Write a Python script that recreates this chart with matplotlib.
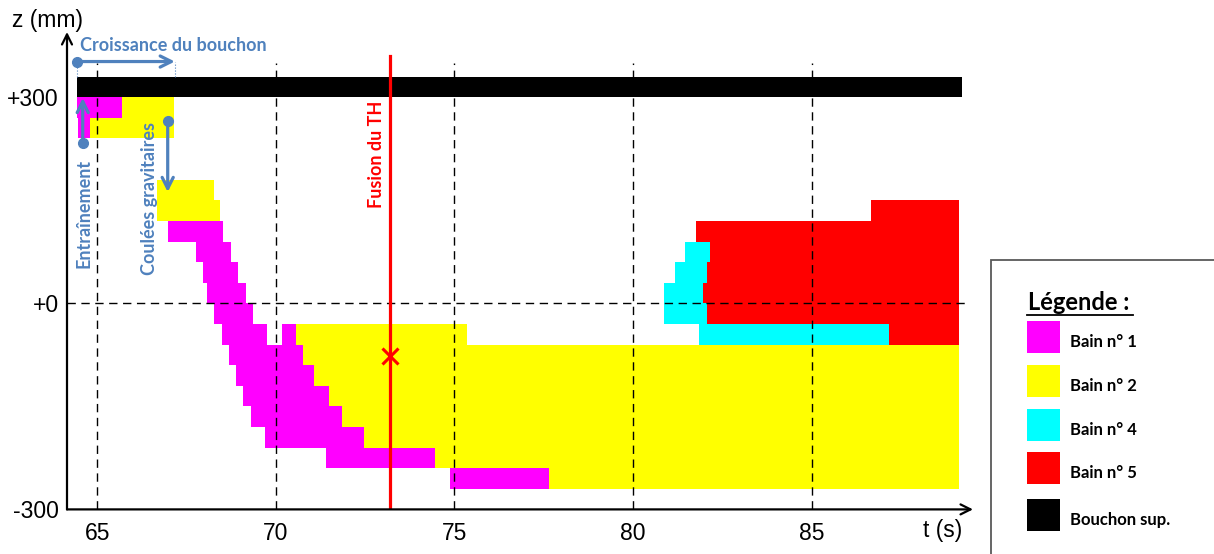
import matplotlib.pyplot as plt
import numpy as np
from matplotlib.patches import Rectangle
from matplotlib.lines import Line2D

plt.rcParams['font.family'] = ['Lato', 'DejaVu Sans']

# rows are 30 mm high, z = bottom of the row, t0/t1 = start/end time (s)
row_h = 30

bain1_z = [270, 240, 90, 60, 30, 0, -30, -60, -60, -90, -120, -150, -180, -210, -240, -270]
bain1_t0 = [64.42, 64.46, 66.98, 67.76, 67.96, 68.08, 68.27, 68.48, 70.16, 68.68, 68.89, 69.08, 69.29, 69.70, 71.39, 74.87]
bain1_t1 = [65.70, 64.79, 68.52, 68.74, 68.94, 69.15, 69.35, 69.76, 70.56, 70.77, 71.07, 71.49, 71.86, 72.47, 74.46, 77.65]

bain2_z = [270, 240, 150, 120, -60, -90, -120, -150, -180, -210, -240, -270]
bain2_t0 = [65.70, 64.79, 66.68, 66.68, 70.56, 70.77, 71.07, 71.49, 71.86, 72.47, 74.46, 77.65]
bain2_t1 = [67.15, 67.15, 68.26, 68.44, 75.34, 89.12, 89.12, 89.12, 89.12, 89.12, 89.12, 89.12]

bain4_z = [60, 30, 0, -30, -60]
bain4_t0 = [81.45, 81.18, 80.87, 80.87, 81.86]
bain4_t1 = [82.16, 82.06, 81.95, 82.06, 87.17]

bain5_z = [120, 90, 60, 30, 0, -30, -60]
bain5_t0 = [86.66, 81.76, 82.16, 82.06, 81.95, 82.06, 87.17]
bain5_t1 = [89.12, 89.12, 89.12, 89.12, 89.12, 89.12, 89.12]

bouchon_z = [300]
bouchon_t0 = [64.42]
bouchon_t1 = [89.22]

x_ticks = [65, 70, 75, 80, 85]
y_ticks = [300, 0, -300]
y_ticklabels = ['+300', '+0', '-300']

t_fusion = 73.19
fusion_point = (73.19, -77)

legend_labels = ['Bain n° 1', 'Bain n° 2', 'Bain n° 4', 'Bain n° 5', 'Bouchon sup.']
legend_colors = ['#FF00FF', '#FFFF00', '#00FFFF', '#FF0000', '#000000']

blue = '#4F81BD'
axis_font = ['Liberation Sans', 'DejaVu Sans']
W, H = 1214, 554

fig = plt.figure(figsize=(W / 100, H / 100), dpi=100)
ax = fig.add_axes([67 / W, (H - 509.4) / H, (973 - 67) / W, (509.4 - 32) / H])
ax.set_xlim(64.15, 89.52)
ax.set_ylim(-300, 395)
for s in ax.spines.values():
    s.set_visible(False)

series = [
    (bain1_z, bain1_t0, bain1_t1, legend_colors[0]),
    (bain2_z, bain2_t0, bain2_t1, legend_colors[1]),
    (bain4_z, bain4_t0, bain4_t1, legend_colors[2]),
    (bain5_z, bain5_t0, bain5_t1, legend_colors[3]),
    (bouchon_z, bouchon_t0, bouchon_t1, legend_colors[4]),
]
for z, t0, t1, col in series:
    t0 = np.array(t0)
    t1 = np.array(t1)
    ax.barh(z, t1 - t0, left=t0, height=row_h, align='edge', color=col, linewidth=0, zorder=1)

# dashed grid
for xt in x_ticks:
    ax.plot([xt, xt], [-300, 350], color='black', lw=1, ls=(0, (6, 4)), zorder=3)
ax.plot([64.15, 89.37], [0, 0], color='black', lw=1, ls=(0, (6, 4)), zorder=3)

# axes arrows
ax_arrow = dict(arrowstyle='->', lw=1.6, color='black', shrinkA=0, shrinkB=0, mutation_scale=18)
ax.annotate('', xy=(89.52, -300), xytext=(64.15, -300), arrowprops=ax_arrow,
            annotation_clip=False, zorder=6)
ax.annotate('', xy=(64.15, 395), xytext=(64.15, -300), arrowprops=ax_arrow,
            annotation_clip=False, zorder=6)

ax.set_xticks(x_ticks)
ax.set_xticklabels([str(v) for v in x_ticks])
ax.set_yticks(y_ticks)
ax.set_yticklabels(y_ticklabels)
ax.tick_params(axis='x', length=0, pad=9)
ax.tick_params(axis='y', length=0, pad=6)
for lab in ax.get_xticklabels() + ax.get_yticklabels():
    lab.set_fontfamily(axis_font)
    lab.set_fontsize(16.5)

ax.text(63.61, 412, 'z (mm)', fontsize=16.5, family=axis_font, ha='center', va='center', clip_on=False)
ax.text(88.66, -331, 't (s)', fontsize=16.5, family=axis_font, ha='center', va='center', clip_on=False)

# fusion du TH
ax.plot([t_fusion, t_fusion], [-300, 360], color='red', lw=2.3, zorder=4)
ax.plot(*fusion_point, marker='x', color='red', ms=11, mew=2.2, zorder=5)
ax.text(72.81, 217, 'Fusion du TH', color='red', rotation=90, fontsize=13, weight='bold',
        ha='center', va='center')

# blue annotations
arrow_kw = dict(arrowstyle='->', lw=2.3, color=blue, shrinkA=0, shrinkB=0, mutation_scale=20)
ax.annotate('', xy=(67.17, 352), xytext=(64.42, 352), arrowprops=arrow_kw, zorder=6)
ax.plot(64.42, 352, 'o', color=blue, ms=7, zorder=6)
ax.plot([64.42, 64.42], [330, 352], color=blue, lw=0.8, ls=':', zorder=6)
ax.plot([67.17, 67.17], [330, 352], color=blue, lw=0.8, ls=':', zorder=6)
ax.text(67.13, 376, 'Croissance du bouchon', color=blue, fontsize=13, weight='bold',
        ha='center', va='center', clip_on=False)

ax.annotate('', xy=(64.59, 299), xytext=(64.59, 233), arrowprops=arrow_kw, zorder=6)
ax.plot(64.59, 233, 'o', color=blue, ms=7, zorder=6)
ax.text(64.64, 131, 'Entraînement', color=blue, rotation=90, fontsize=13, weight='bold',
        ha='center', va='center')

ax.annotate('', xy=(66.97, 162), xytext=(66.97, 265), arrowprops=arrow_kw, zorder=6)
ax.plot(66.97, 265, 'o', color=blue, ms=7, zorder=6)
ax.text(66.46, 152, 'Coulées gravitaires', color=blue, rotation=90, fontsize=13, weight='bold',
        ha='center', va='center')

# legend box (drawn by hand, runs past the figure edge like the original)
def fpx(x, y):
    return x / W, 1 - y / H

fig.add_artist(Rectangle(fpx(991, 580), (1240 - 991) / W, (580 - 260) / H,
                         transform=fig.transFigure, facecolor='white', edgecolor='#595959',
                         lw=1.3, clip_on=False))
fig.text(*fpx(1028, 302), 'Légende :', fontsize=17, weight='bold', ha='left', va='center')
fig.add_artist(Line2D([1027 / W, 1133 / W], [1 - 315 / H] * 2, transform=fig.transFigure,
                      color='black', lw=1.3))
sq_y = [337, 381, 425, 468, 515]
for lab, col, yc in zip(legend_labels, legend_colors, sq_y):
    fig.add_artist(Rectangle(fpx(1027, yc + 16), 33 / W, 32 / H, transform=fig.transFigure,
                             facecolor=col, edgecolor='none'))
    fig.text(*fpx(1070, yc + 5), lab, fontsize=12, weight='bold', ha='left', va='center')

fig.savefig('out.png', dpi=100)
